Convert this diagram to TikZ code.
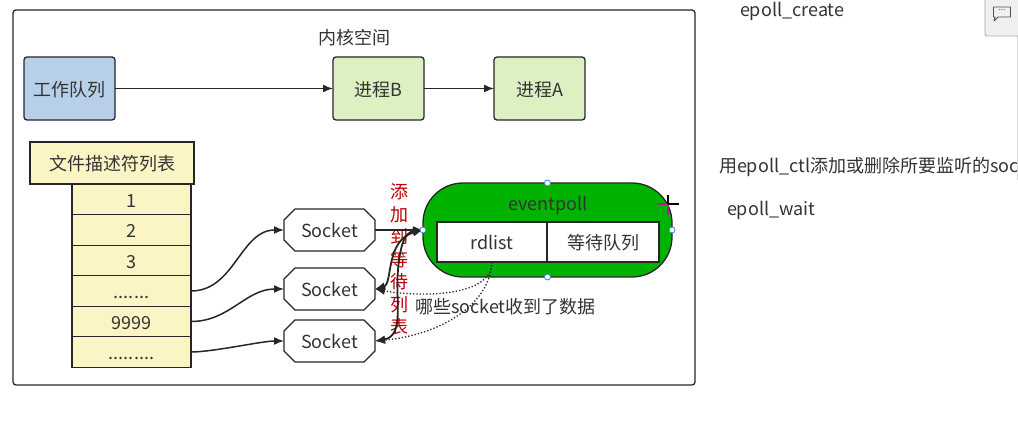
\documentclass[tikz,border=0pt]{standalone}
\usepackage{fontspec}
\setmainfont{Noto Sans CJK SC}
\usepackage{xcolor}
\usetikzlibrary{positioning,shapes.misc,arrows.meta}

\definecolor{inkgray}{HTML}{333333}
\definecolor{bluefill}{HTML}{B8CFEA}
\definecolor{greenfill}{HTML}{DDF0C2}
\definecolor{yellowfill}{HTML}{FBF4C4}
\definecolor{pollgreen}{HTML}{00B300}
\definecolor{handleblue}{HTML}{3D85C6}
\definecolor{crossmagenta}{HTML}{B0209A}

\tikzset{
    base/.style={text=inkgray, font=\fontsize{18}{20}\selectfont, outer sep=0pt, inner sep=0pt, text height=16pt, text depth=0pt},
    qbox/.style={base, draw=black!85, line width=1.3pt, rectangle, rounded corners=3pt, minimum width=91pt, minimum height=63pt},
    rowbox/.style={base, draw=black!85, line width=1.1pt, rectangle, fill=yellowfill, minimum width=119pt, minimum height=30.5pt},
    sockbox/.style={base, draw=black!85, line width=1.2pt, fill=white, chamfered rectangle, chamfered rectangle corners={north west,north east,south west,south east}, chamfered rectangle xsep=10pt, chamfered rectangle ysep=3pt, minimum width=91pt, minimum height=42pt},
    cellbox/.style={base, draw=black!85, line width=1.2pt, fill=white, rectangle, minimum width=110pt, minimum height=40pt},
    handle/.style={circle, draw=handleblue, fill=white, line width=0.8pt, minimum size=6pt, inner sep=0pt},
    link/.style={draw=black!85, line width=1.5pt, >={Latex[length=10pt,width=8pt]}},
    boldlink/.style={link, line width=1.8pt},
    dotlink/.style={link, line width=1.3pt, dotted}
}

\begin{document}
\begin{tikzpicture}[x=1pt, y=-1pt]
    \useasboundingbox (0,0) rectangle (1018,427);

    \node[draw=black!85, line width=1.3pt, rectangle, rounded corners=3pt, minimum width=682pt, minimum height=375pt, outer sep=0pt] (kernel) at (354,197.5) {};
    \node[base] (kerneltitle) at (354,37) {内核空间};

    \node[qbox, fill=bluefill] (workq) at (69.5,88.5) {工作队列};
    \node[qbox, fill=greenfill] (procb) at (378.5,88.5) {进程B};
    \node[qbox, fill=greenfill] (proca) at (539.5,88.5) {进程A};
    \draw[link, ->] (workq) -- (procb);
    \draw[link, ->] (procb) -- (proca);

    \node[rowbox, minimum width=164pt, minimum height=42pt] (fdtitle) at (112,163) {文件描述符列表};
    \node[rowbox] (row1) at (131.5,199.5) {1};
    \node[rowbox, below=0pt of row1] (row2) {2};
    \node[rowbox, below=0pt of row2] (row3) {3};
    \node[rowbox, below=0pt of row3] (row4) {.......};
    \node[rowbox, below=0pt of row4] (row5) {9999};
    \node[rowbox, below=0pt of row5] (row6) {.........};

    \node[sockbox] (sock1) at (329.5,230) {Socket};
    \node[sockbox] (sock2) at (329.5,289) {Socket};
    \node[sockbox] (sock3) at (329.5,341) {Socket};

    \draw[link, ->] (row4.east) to[out=0, in=180] (sock1.west);
    \draw[link, ->] (row5.east) to[out=0, in=180] (sock2.west);
    \draw[link, ->] (row6.east) to[out=0, in=180, looseness=0.6] (sock3.west);

    \node[text=red!75!black, text width=20pt, align=center, inner sep=0pt, font=\fontsize{18}{22.5}\selectfont] (addlabel) at (399,259.5) {添\\加\\到\\等\\待\\列\\表};

    \node[base, draw=black!85, line width=1.3pt, fill=pollgreen, rectangle, rounded corners=40pt, minimum width=249pt, minimum height=94pt] (eventpoll) at (547.5,230) {};
    \node[base, text=black!80] (polltitle) at (548,203) {eventpoll};
    \node[cellbox] (rdlist) at (492,242) {rdlist};
    \node[cellbox, minimum width=112pt, right=0pt of rdlist] (waitq) {等待队列};

    \draw[link, ->] (sock1.east) -- (eventpoll.west);
    \draw[boldlink, <->] (sock2.east) .. controls (393,284) and (385,240) .. (eventpoll.west);
    \draw[boldlink, <->] (sock3.east) .. controls (405,336) and (395,300) .. (398,270) .. controls (400,245) and (405,232) .. (eventpoll.west);

    \draw[dotlink, ->] (rdlist.south) .. controls (492,300) and (410,296) .. (sock2.east);
    \draw[dotlink, ->] (rdlist.south) .. controls (490,305) and (440,335) .. (sock3.east);

    \node[base, anchor=west] (dotlabel) at (415,306) {哪些socket收到了数据};

    \node[handle] (handletop) at (eventpoll.north) {};
    \node[handle] (handleleft) at (eventpoll.west) {};
    \node[handle] (handleright) at (eventpoll.east) {};
    \node[handle] (handlebottom) at (eventpoll.south) {};

    % cursor
    \draw[crossmagenta, line width=1.3pt] (657,204) -- (668,204) (668,204) -- (668,215);
    \draw[black, line width=1.3pt] (668,204) -- (679,204) (668,204) -- (668,195);

    \node[base, anchor=west] (createnote) at (740,9) {epoll\_create};
    \node[base, anchor=west] (ctlnote) at (719,165) {用epoll\_ctl添加或删除所要监听的soc};
    \node[base, anchor=west] (waitnote) at (727,208) {epoll\_wait};

    % comment button
    \draw[black!15, line width=0.8pt] (1017.5,35) -- (1017.5,180);
    \node[draw=black!35, fill=black!6, line width=0.8pt, rectangle, rounded corners=2pt, minimum width=40pt, minimum height=40pt, outer sep=0pt] (commentbtn) at (1005,16) {};
    \draw[black!70, line width=0.9pt, line join=round] (993.5,7) -- (1010.5,7) -- (1010.5,17) -- (998,17) -- (994,21) -- (995,17) -- (993.5,17) -- cycle;
    \node[text=black!70, font=\fontsize{8}{8}\selectfont, inner sep=0pt] (commentdots) at (1002,10.5) {...};
\end{tikzpicture}
\end{document}
